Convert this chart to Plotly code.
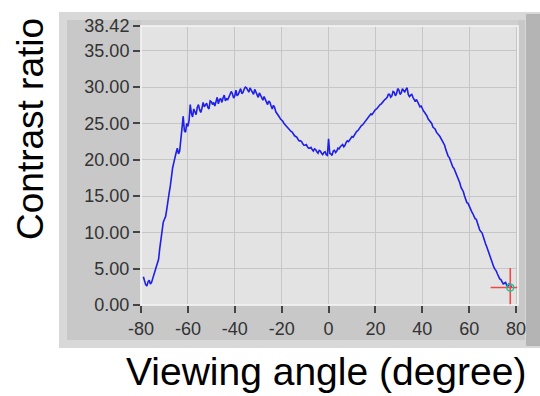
import plotly.graph_objects as go

# samples at whole degrees
angles = list(range(-79, 79))
contrast = [
    3.9, 2.8, 3.2, 2.9, 3.6, 4.6, 5.6, 7.8, 10.2, 11.8,          # -79..-70
    13.2, 15.4, 17.8, 19.6, 21.0, 20.8, 22.6, 26.0, 23.8, 24.6,  # -69..-60
    27.6, 25.9, 26.6, 27.2, 26.9, 27.1, 27.3, 27.8, 27.0, 28.0,  # -59..-50
    27.9, 28.2, 27.7, 28.4, 28.5, 28.1, 28.3, 29.0, 29.1, 28.8,  # -49..-40
    28.8, 29.4, 29.1, 29.7, 29.9, 29.3, 29.6, 29.0, 29.4, 28.6,  # -39..-30
    28.9, 28.2, 28.4, 27.6, 27.9, 27.0, 27.2, 26.4, 25.9, 25.5,  # -29..-20
    25.0, 24.7, 24.2, 23.9, 23.5, 23.2, 22.8, 22.6, 22.2, 22.0,  # -19..-10
    21.8, 21.6, 21.4, 21.5, 21.1, 21.3, 20.9, 21.0, 20.7, 22.9,  # -9..0
    20.8, 21.2, 21.0, 21.6, 21.8, 22.1, 22.0, 22.6, 22.8, 23.2,  # 1..10
    23.4, 23.9, 24.3, 24.7, 25.0, 25.5, 25.8, 26.3, 26.5, 26.9,  # 11..20
    27.2, 27.6, 27.9, 28.3, 28.6, 29.0, 28.8, 29.3, 29.1, 29.6,  # 21..30
    29.2, 29.5, 29.7, 29.0, 28.9, 28.6, 28.0, 27.9, 27.3, 27.0,  # 31..40
    26.5, 26.0, 25.4, 25.0, 24.3, 23.8, 23.4, 22.9, 22.2, 21.4,  # 41..50
    20.5, 19.8, 19.0, 18.4, 17.6, 16.8, 15.9, 15.0, 14.1, 13.6,  # 51..60
    12.9, 12.2, 11.8, 10.8, 10.1, 9.4, 8.4, 7.5, 6.6, 5.7,       # 61..70
    4.9, 4.3, 3.6, 3.2, 3.0, 2.7, 2.9, 2.4,                      # 71..78
]
# samples at half degrees (-78.5 .. 77.5)
angles_half = [a + 0.5 for a in range(-79, 78)]
contrast_half = [
    3.2, 2.6, 3.4, 3.1, 4.2, 5.0, 6.3, 9.0, 11.4, 12.2,
    14.6, 16.4, 18.9, 20.5, 21.6, 21.2, 24.5, 24.0, 25.0, 25.4,
    26.4, 27.0, 26.2, 27.6, 26.5, 27.9, 27.6, 27.2, 28.1, 27.6,
    27.4, 28.6, 28.3, 27.9, 28.9, 28.4, 28.8, 29.4, 28.5, 29.6,
    29.0, 29.8, 29.3, 30.0, 29.5, 29.9, 29.2, 29.7, 28.9, 29.2,
    28.5, 28.7, 27.9, 28.1, 27.4, 27.5, 26.6, 26.2, 25.6, 25.3,
    24.8, 24.5, 24.0, 23.8, 23.3, 23.1, 22.6, 22.5, 22.0, 22.1,
    21.6, 21.7, 21.2, 21.4, 20.9, 21.2, 20.7, 21.1, 20.6, 20.9,
    20.6, 21.3, 21.2, 21.5, 22.0, 21.8, 22.4, 22.5, 23.0, 23.1,
    23.7, 24.0, 24.6, 24.8, 25.3, 25.6, 26.1, 26.2, 26.8, 27.0,
    27.5, 27.7, 28.2, 28.4, 29.0, 28.6, 29.4, 28.8, 29.8, 29.0,
    29.8, 29.3, 29.9, 28.7, 29.0, 28.2, 28.3, 27.5, 27.4, 26.7,
    26.3, 25.6, 25.3, 24.5, 24.2, 23.5, 23.2, 22.4, 22.0, 20.8,
    20.3, 19.3, 18.8, 17.9, 17.3, 16.2, 15.6, 14.4, 14.0, 13.1,
    12.6, 11.9, 11.4, 10.3, 9.9, 8.8, 8.0, 6.9, 6.2, 5.2,
    4.7, 3.8, 3.5, 2.9, 3.1, 2.6, 2.8,
]
cursor_x = [77.5]
cursor_y = [2.4]

x_ticks = [-80, -60, -40, -20, 0, 20, 40, 60, 80]
x_ticktext = ["-80", "-60", "-40", "-20", "0", "20", "40", "60", "80"]
y_ticks = [0, 5, 10, 15, 20, 25, 30, 35, 38.42]
y_ticktext = ["0.00", "5.00", "10.00", "15.00", "20.00", "25.00", "30.00", "35.00", "38.42"]

x_title = "Viewing angle (degree)"
y_title = "Contrast ratio"

# merge the two sample sets in angle order
pts = sorted(zip(angles + angles_half, contrast + contrast_half))
xs = [p[0] for p in pts]
ys = [p[1] for p in pts]

# plot-area geometry in pixels
W, H = 540, 396
L, R, T, B = 141, 518, 26, 305


def px(x):
    return (x - L) / (R - L)


def py(y):
    return (B - y) / (B - T)


def rect(x0, x1, y0, y1, color):
    return dict(type="rect", xref="paper", yref="paper", layer="below",
                x0=px(x0), x1=px(x1), y0=py(y1), y1=py(y0),
                fillcolor=color, line=dict(width=0))


fig = go.Figure()
fig.add_trace(go.Scatter(x=xs, y=ys, mode="lines",
                         line=dict(color="#1f1fe8", width=1.6), hoverinfo="skip"))
fig.add_trace(go.Scatter(x=cursor_x, y=cursor_y, mode="markers",
                         marker=dict(symbol="cross-thin", size=28,
                                     line=dict(color="#f04848", width=1.6))))
fig.add_trace(go.Scatter(x=cursor_x, y=cursor_y, mode="markers",
                         marker=dict(symbol="circle-open", size=7,
                                     line=dict(color="#b03080", width=1.2))))

rim = "#d8d8d8"
inner = "#c8c8c8"
shapes = [
    # outer rim pieces (not covering the plot area)
    rect(59, L, 12, 348, rim),
    rect(L, R, 12, T, rim),
    rect(L, 540, B, 348, rim),
    rect(R, 540, 12, 348, rim),
    # inner darker pieces
    rect(67, L, 20, 340, inner),
    rect(L, 525, 20, T, "#cfcfcf"),
    rect(L, 525, B, 340, inner),
    rect(R, 525, 20, 340, inner),
    # right bar
    rect(526, 540, 14, 346, "#b4b4b4"),
    # plot border
    dict(type="rect", xref="paper", yref="paper", layer="above",
         x0=0, x1=1, y0=0, y1=1,
         fillcolor="rgba(0,0,0,0)", line=dict(color="#f6f6f6", width=1.5)),
]

annotations = [
    dict(text=y_title, xref="paper", yref="paper", x=px(30), y=py(129),
         xanchor="center", yanchor="middle", textangle=-90, showarrow=False,
         font=dict(family="Arial, Liberation Sans", size=37, color="#000000")),
    dict(text=x_title, xref="paper", yref="paper", x=px(326), y=py(371),
         xanchor="center", yanchor="middle", showarrow=False,
         font=dict(family="Arial, Liberation Sans", size=39, color="#000000")),
]

fig.update_layout(
    width=W, height=H,
    margin=dict(l=L, r=W - R, t=T, b=H - B),
    paper_bgcolor="#ffffff",
    plot_bgcolor="#e3e3e3",
    showlegend=False,
    shapes=shapes,
    annotations=annotations,
    font=dict(family="Arial, Liberation Sans", size=17, color="#333333"),
    xaxis=dict(range=[-80, 80.8], tickvals=x_ticks, ticktext=x_ticktext,
               showgrid=True, gridcolor="#c6c6c6", gridwidth=1, zeroline=False,
               ticks="outside", ticklen=7, tickwidth=1.5, tickcolor="#444444",
               showline=False, tickfont=dict(size=18, color="#333333")),
    yaxis=dict(range=[0, 38.42], tickvals=y_ticks, ticktext=y_ticktext,
               showgrid=True, gridcolor="#c6c6c6", gridwidth=1, zeroline=False,
               ticks="outside", ticklen=7, tickwidth=1.5, tickcolor="#444444",
               showline=False, tickfont=dict(size=18, color="#333333")),
)

fig.write_html("out.html")
